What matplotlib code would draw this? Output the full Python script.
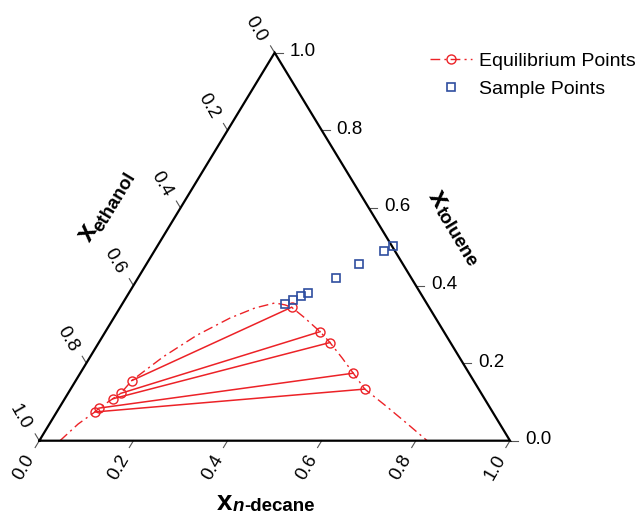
import matplotlib.pyplot as plt
from matplotlib.lines import Line2D

plt.rcParams['font.family'] = ['Liberation Sans', 'DejaVu Sans']

# tie-line ends (mole fractions), ethanol = 1 - decane - toluene
left_decane = [0.119, 0.112, 0.102, 0.085, 0.081]
left_toluene = [0.155, 0.122, 0.108, 0.084, 0.074]
right_decane = [0.364, 0.456, 0.491, 0.580, 0.625]
right_toluene = [0.344, 0.281, 0.253, 0.174, 0.133]

# binodal curve
curve_decane = [0.044, 0.061, 0.081, 0.085, 0.102, 0.112, 0.119, 0.155, 0.199, 0.247,
                0.287, 0.323, 0.347, 0.364, 0.402, 0.456, 0.491, 0.537, 0.580, 0.625,
                0.694, 0.758, 0.824]
curve_toluene = [0.000, 0.043, 0.074, 0.084, 0.108, 0.122, 0.155, 0.216, 0.272, 0.316,
                 0.342, 0.355, 0.350, 0.344, 0.319, 0.281, 0.253, 0.213, 0.174, 0.133,
                 0.088, 0.045, 0.000]

# sample compositions
sample_decane = [0.347, 0.357, 0.370, 0.381, 0.421, 0.452, 0.488, 0.501]
sample_toluene = [0.352, 0.363, 0.372, 0.381, 0.420, 0.455, 0.490, 0.502]

ticks = [0.0, 0.2, 0.4, 0.6, 0.8, 1.0]
tick_labels = ['0.0', '0.2', '0.4', '0.6', '0.8', '1.0']

red = '#ec2227'
blue = '#2f4ea0'


def to_xy(decane, toluene):
    x = [d + t / 2 for d, t in zip(decane, toluene)]
    return x, list(toluene)


W, H = 642, 517
fig = plt.figure(figsize=(W / 100, H / 100), dpi=100)
ax = fig.add_axes([39.3 / W, (H - 440.7) / H, 470.7 / W, 388 / H])
ax.set_xlim(0, 1)
ax.set_ylim(0, 1)
ax.axis('off')

# triangle frame
ax.plot([0, 1, 0.5, 0], [0, 0, 1, 0], color='black', lw=1.6, clip_on=False,
        solid_joinstyle='miter', zorder=3)

s = 0.0176
tick_kw = dict(color='#555555', lw=0.8, clip_on=False)
for v, lab in zip(ticks, tick_labels):
    # n-decane, bottom edge
    ax.plot([v, v - 0.5 * s], [0, -s], **tick_kw)
    ax.annotate(lab, (v, 0), xytext=(-15, -27), textcoords='offset pixels',
                rotation=60, ha='center', va='center', fontsize=13.5)
    # ethanol, left edge
    y = 1 - v
    ax.plot([y / 2, y / 2 - 0.5 * s], [y, y + s], **tick_kw)
    ax.annotate(lab, (y / 2, y), xytext=(-19, 24), textcoords='offset pixels',
                rotation=-60, ha='center', va='center', fontsize=13.5)
    # toluene, right edge
    ax.plot([1 - v / 2, 1 - v / 2 + 0.017], [v, v], **tick_kw)
    ax.annotate(lab, (1 - v / 2, v), xytext=(15, 1), textcoords='offset pixels',
                ha='left', va='center', fontsize=13.5)

# binodal curve
cx, cy = to_xy(curve_decane, curve_toluene)
ax.plot(cx, cy, color=red, lw=1, linestyle=(0, (7, 3, 1.5, 3)), clip_on=False)

# tie lines
lx, ly = to_xy(left_decane, left_toluene)
rx, ry = to_xy(right_decane, right_toluene)
for x0, y0, x1, y1 in zip(lx, ly, rx, ry):
    ax.plot([x0, x1], [y0, y1], color=red, lw=1.1)
ax.plot(lx + rx, ly + ry, 'o', mfc='none', mec=red, ms=6.5, mew=1)

sx, sy = to_xy(sample_decane, sample_toluene)
ax.plot(sx, sy, 's', mfc='none', mec=blue, ms=6.2, mew=1.2, zorder=4)

# axis titles
def fx(px):
    return px / W


def fy(py):
    return (H - py) / H


fig.text(fx(231.7), fy(510), 'x', fontsize=20, fontweight='bold', ha='right', va='baseline')
fig.text(fx(233), fy(511), 'n', fontsize=13.5, fontweight='bold', style='italic',
         ha='left', va='baseline')
fig.text(fx(244.5), fy(511), '-decane', fontsize=13.5, fontweight='bold',
         ha='left', va='baseline')

fig.text(fx(98), fy(230), 'x', fontsize=20, fontweight='bold', ha='right', va='baseline',
         rotation=58.7, rotation_mode='anchor')
fig.text(fx(101), fy(233), 'ethanol', fontsize=13.5, fontweight='bold', ha='left',
         va='baseline', rotation=58.7, rotation_mode='anchor')

fig.text(fx(436), fy(208.7), 'x', fontsize=20, fontweight='bold', ha='right',
         va='baseline', rotation=-58.7, rotation_mode='anchor')
fig.text(fx(434.8), fy(210.6), 'toluene', fontsize=13.5, fontweight='bold', ha='left',
         va='baseline', rotation=-58.7, rotation_mode='anchor')

# legend
handles = [Line2D([], [], color=red, lw=1, linestyle=(0, (7, 3, 1.5, 3)), marker='o',
                  mfc='none', mec=red, ms=6.5, mew=1),
           Line2D([], [], linestyle='none', marker='s', mfc='none', mec=blue, ms=6.2, mew=1.2)]
ax.legend(handles, ['Equilibrium Points', 'Sample Points'], loc='upper left',
          bbox_to_anchor=(fx(430), fy(52)), bbox_transform=fig.transFigure,
          frameon=False, borderpad=0, borderaxespad=0, handlelength=2.16,
          handletextpad=0.36, labelspacing=0.56, fontsize=14)

fig.savefig('out.png', dpi=100)
